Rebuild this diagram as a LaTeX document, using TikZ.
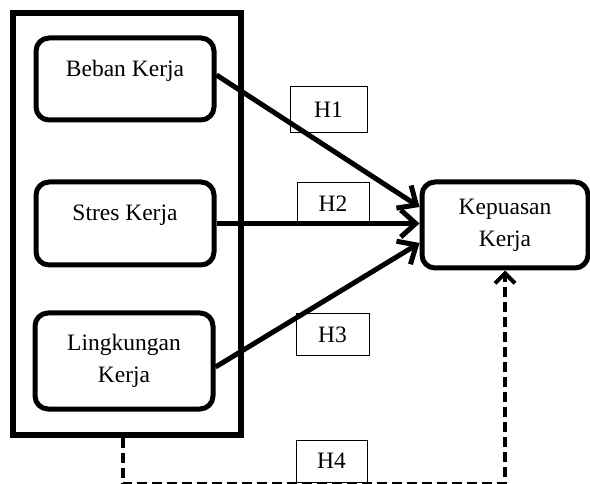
\documentclass[tikz,border=0pt]{standalone}
\usepackage{fontspec}
\setmainfont{Liberation Serif}
\usetikzlibrary{arrows.meta,calc}
\tikzset{
  varbox/.style={draw, line width=5pt, rounded corners=13pt, minimum width=178pt,
    align=center, inner sep=0pt, font=\fontsize{23.5}{32}\selectfont},
  hbox/.style={draw, line width=1pt, inner sep=0pt, font=\fontsize{23.5}{28}\selectfont},
  effect/.style={line width=5pt, -{Straight Barb[length=15pt,width=27pt]}},
  joint/.style={line width=4pt, dash pattern=on 10pt off 5pt,
    -{Straight Barb[length=10pt,width=20pt]}}
}
\begin{document}
\begin{tikzpicture}[x=1pt, y=-1pt]
    \useasboundingbox (0,0) rectangle (590,484);

    % Group frame round the independent variables
    \node (grp) at (127,224) [draw, line width=6pt, minimum width=228pt, minimum height=422pt] {};

    % Variable boxes
    \node (beb) at (125,79) [varbox, minimum height=82pt, text height=16pt, text depth=21pt] {Beban Kerja};
    \node (str) at (125,223.5) [varbox, minimum height=83pt, text height=16pt, text depth=21pt] {Stres Kerja};
    \node (lk) at (124,361) [varbox, minimum height=96pt] {Lingkungan\\Kerja};
    \node (kep) at (505,225) [varbox, minimum width=166pt, minimum height=86pt] {Kepuasan\\Kerja};

    % Hypothesis labels
    \node (h1) at (328.5,110) [hbox, minimum width=77pt, minimum height=46pt] {H1};
    \node (h2) at (333,203.5) [hbox, minimum width=72pt, minimum height=41pt] {H2};
    \node (h3) at (332.5,334.5) [hbox, minimum width=73pt, minimum height=41pt] {H3};
    \node (h4) at (331.5,461) [hbox, minimum width=71pt, minimum height=42pt] {H4};

    % Partial effects
    \draw[effect] ($(beb.east)+(0,-4)$) -- ($(kep.west)+(0,-18)$);
    \draw[effect] (str.east) -- (str.east -| kep.west);
    \draw[effect] ($(lk.east)+(0,6)$) -- ($(kep.west)+(0,18)$);

    % Joint effect
    \coordinate (d0) at ($(grp.south)+(-4,0)$);
    \coordinate (d1) at ($(d0)+(0,46)$);
    \draw[joint] (d0) -- (d1) -| (kep.south);
\end{tikzpicture}
\end{document}
